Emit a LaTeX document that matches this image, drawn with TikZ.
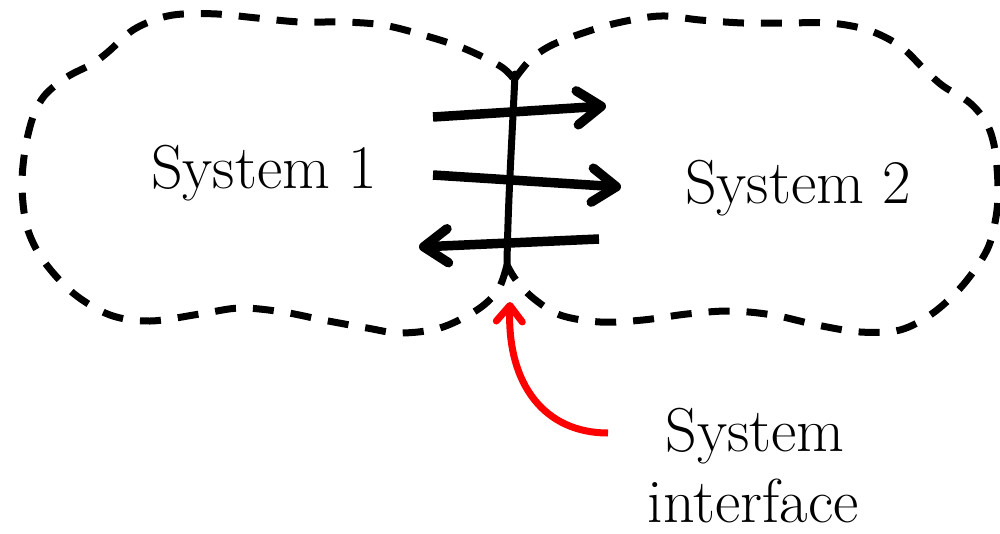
\documentclass[tikz,border=0pt]{standalone}
\usetikzlibrary{arrows.meta}
\begin{document}
\begin{tikzpicture}[x=1pt,y=-1pt,
  blob/.style={line width=7pt, dash pattern=on 21pt off 17pt},
  iface/.style={line width=7pt, line cap=round},
  flow/.style={line width=9.5pt, -{Straight Barb[length=24pt,width=34pt,line cap=round,line join=round]}},
  pointer/.style={red, line width=7pt, -{Straight Barb[length=16pt,width=26pt,line cap=round,line join=round]}},
  lbl/.style={font=\rmfamily\fontsize{62}{77}\selectfont, inner sep=0pt}]
\useasboundingbox (0,0) rectangle (1000,533);
% left system boundary
\draw[blob] plot[smooth, tension=0.55] coordinates {
 (513,78) (500,66) (463,48) (423,35) (383,25) (343,22) (300,22) (257,18) (217,14) (183,14) (160,18) (133,30) (108,52) (92,64) (67,77) (45,95) (33,117) (25,150) (22,187) (27,227) (43,260) (73,293) (110,315) (150,321) (200,314) (240,308) (283,312) (323,320) (367,328) (400,333) (440,328) (477,310) (498,290) (507,265)};
% right system boundary
\draw[blob] plot[smooth, tension=0.55] coordinates {
 (514,80) (530,60) (550,46) (580,34) (617,23) (660,16) (700,20) (743,23) (787,23) (830,23) (868,30) (900,46) (925,70) (943,86) (970,103) (987,124) (995,150) (998,187) (996,217) (987,250) (963,285) (933,313) (900,330) (860,332) (817,325) (773,315) (730,311) (687,314) (643,320) (600,322) (560,315) (533,298) (516,280) (507,265)};
% interface line
\coordinate (ifTop) at (515,74);
\coordinate (ifBot) at (507,264);
\draw[iface] (ifTop) .. controls (512,140) and (508,200) .. (ifBot);
% flows
\coordinate (a1s) at (433,117); \coordinate (a1e) at (606,106);
\coordinate (a2s) at (433,175); \coordinate (a2e) at (621,187);
\coordinate (a3s) at (599,239); \coordinate (a3e) at (419,247);
\draw[flow] (a1s) -- (a1e);
\draw[flow] (a2s) -- (a2e);
\draw[flow] (a3s) -- (a3e);
% labels
\node[lbl, anchor=base west] (s1) at (151,188) {System 1};
\node[lbl, anchor=base west] (s2) at (685,203) {System 2};
\node[lbl, anchor=base] (si1) at (755,451) {System};
\node[lbl, anchor=base] (si2) at (753,522) {interface};
% red pointer
\coordinate (rs) at (608,433);
\coordinate (rt) at (510,302);
\draw[pointer] (rs) .. controls (545,433) and (507,385) .. (rt);
\end{tikzpicture}
\end{document}
